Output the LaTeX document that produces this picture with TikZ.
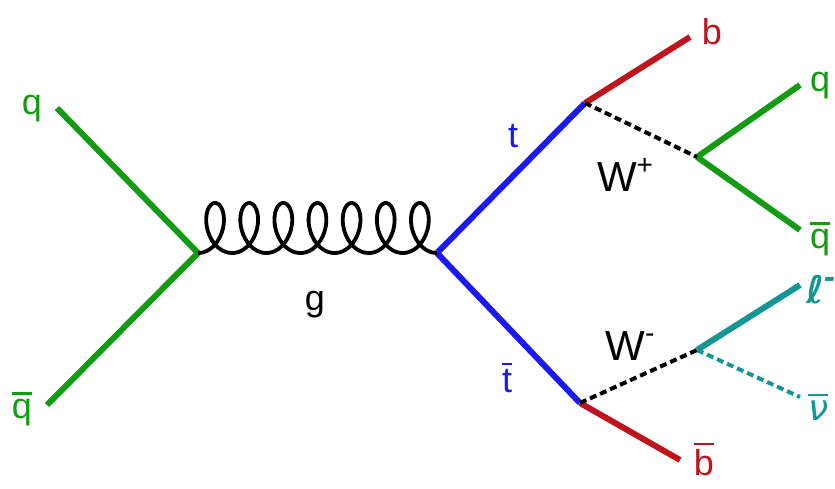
\documentclass[tikz,border=0pt]{standalone}
\usepackage{fontspec}
\setmainfont{Liberation Sans}
\newfontfamily\djfont{DejaVu Sans}
\begin{document}
\begin{tikzpicture}[x=1pt,y=-1pt]
\definecolor{qgreen}{RGB}{20,155,20}
\definecolor{bred}{RGB}{190,20,30}
\definecolor{tblue}{RGB}{25,25,240}
\definecolor{lteal}{RGB}{20,150,150}
\tikzset{
  fermion/.style={line width=6pt},
  boson/.style={line width=4pt, dash pattern=on 7pt off 4pt},
  lbl/.style={font=\fontsize{36}{36}\selectfont, inner sep=0pt, anchor=base},
  wlbl/.style={font=\fontsize{42}{42}\selectfont, inner sep=0pt, anchor=base},
}
\useasboundingbox (0,0) rectangle (835,489);
% vertices
\coordinate (v1) at (198,253);
\coordinate (v2) at (437,253);
\coordinate (vt) at (585,103);
\coordinate (vtb) at (580,403);
\coordinate (wp) at (697,157);
\coordinate (wm) at (697,350);
% free ends
\coordinate (qin) at (57,108);
\coordinate (qbin) at (47,405);
\coordinate (bo) at (690,37);
\coordinate (bbo) at (680,460);
\coordinate (qo) at (800,85);
\coordinate (qbo) at (800,230);
\coordinate (lo) at (800,285);
\coordinate (nuo) at (800,397);
% lines
\draw[fermion, qgreen] (qin) -- (v1);
\draw[fermion, qgreen] (qbin) -- (v1);
\draw[fermion, tblue] (v2) -- (vt);
\draw[fermion, tblue] (v2) -- (vtb);
\draw[fermion, bred] (vt) -- (bo);
\draw[fermion, bred] (vtb) -- (bbo);
\draw[fermion, qgreen] (wp) -- (qo);
\draw[fermion, qgreen] (wp) -- (qbo);
\draw[fermion, lteal] (wm) -- (lo);
\draw[boson, lteal] (wm) -- (nuo);
\draw[boson, black] (vt) -- (wp);
\draw[boson, black] (vtb) -- (wm);
% gluon
\begin{scope}[shift={(v1)}]
\draw[line width=3.8pt, black] plot[domain=0:43.9823, samples=600, variable=\t]
  ({5.4325*\t + 16.5*sin(\t r)}, {-25*(1-cos(\t r))});
\end{scope}
% labels
\newcommand{\ovl}[1]{\leavevmode\vbox{\hrule height 2.2pt\kern 4pt\hbox{#1}}}
\newcommand{\sups}[1]{\raisebox{0.42em}{\fontsize{28}{28}\selectfont #1}}
\node[lbl, qgreen] (Lq1) at (32,115) {q};
\node[lbl, qgreen] (Lq2) at (22,418) {\ovl{q}};
\node[lbl, black] (Lg) at (315,310) {g};
\node[lbl, tblue] (Lt) at (513,148) {t};
\node[lbl, tblue] (Ltb) at (507,392) {\ovl{t}};
\node[lbl, bred] (Lb) at (712,45) {b};
\node[lbl, bred] (Lbb) at (704,475) {\ovl{b}};
\node[wlbl, black] (Lwp) at (625,192) {W\sups{+}};
\node[wlbl, black] (Lwm) at (630,360) {W\sups{-}};
\node[lbl, qgreen] (Lq3) at (820,92) {q};
\node[lbl, qgreen] (Lq4) at (820,248) {\ovl{q}};
\node[lbl, lteal, anchor=base west] (Ll) at (806,303) {\djfont\bfseries\itshape\fontsize{38}{38}\selectfont ℓ\sups{-}};
\node[lbl, lteal, anchor=base west] (Lnu) at (808,420) {\djfont\itshape \ovl{ν}};
\end{tikzpicture}
\end{document}
